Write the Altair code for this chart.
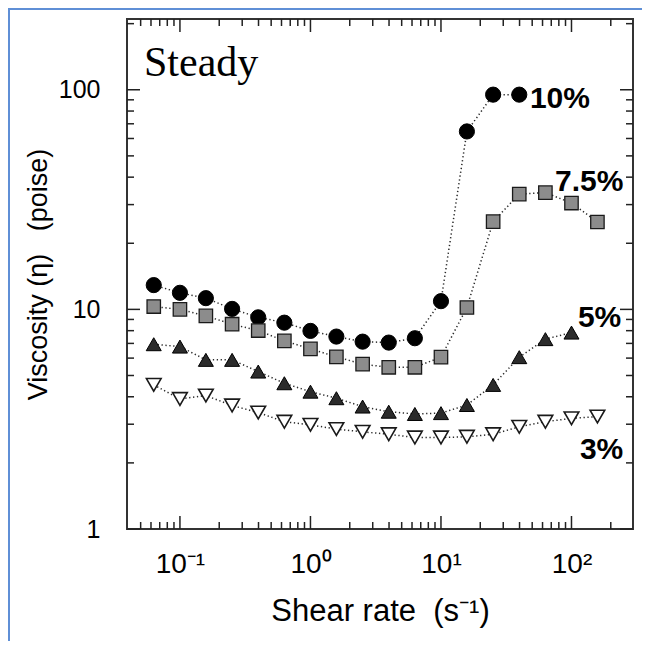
import json
import altair as alt
import pandas as pd

# ---------------- data ----------------
shear = [0.063, 0.1, 0.158, 0.251, 0.398, 0.631, 1.0, 1.58, 2.51, 3.98,
         6.31, 10.0, 15.8, 25.1, 39.8, 63.1, 100.0, 158.0]

visc_10 = [12.9, 11.9, 11.25, 10.05, 9.2, 8.7, 7.98, 7.52, 7.13, 7.06,
           7.39, 10.9, 64.6, 95.0, 95.0]
visc_75 = [10.3, 10.0, 9.34, 8.56, 8.01, 7.19, 6.61, 6.08, 5.63, 5.45,
           5.45, 6.06, 10.2, 25.1, 33.5, 34.0, 30.5, 25.0]
visc_5 = [6.94, 6.77, 5.89, 5.89, 5.21, 4.61, 4.22, 3.94, 3.61, 3.42,
          3.34, 3.37, 3.67, 4.53, 6.06, 7.32, 7.84]
visc_3 = [4.53, 3.91, 4.05, 3.65, 3.39, 3.08, 2.98, 2.85, 2.77, 2.70,
          2.61, 2.61, 2.63, 2.70, 2.92, 3.08, 3.19, 3.25]

series_names = ["10%", "7.5%", "5%", "3%"]
series_values = [visc_10, visc_75, visc_5, visc_3]

# series label anchors (data coordinates)
label_x = [48.0, 74.8, 112.0, 116.0]
label_y = [91.0, 38.1, 9.15, 2.29]

x_domain = [0.0393, 296.0]
y_domain = [1.0, 210.0]

x_major = [0.1, 1, 10, 100]
x_major_labels = ["10\u207b\u00b9", "10\u2070", "10\u00b9", "10\u00b2"]
x_minor = [0.05, 0.06, 0.07, 0.08, 0.09,
           0.2, 0.3, 0.4, 0.5, 0.6, 0.7, 0.8, 0.9,
           2, 3, 4, 5, 6, 7, 8, 9,
           20, 30, 40, 50, 60, 70, 80, 90, 200]
y_major = [1, 10, 100]
y_minor = [2, 3, 4, 5, 6, 7, 8, 9,
           20, 30, 40, 50, 60, 70, 80, 90, 200]

# ---------------- frames ----------------
rows = []
for name, vals in zip(series_names, series_values):
    for x, v in zip(shear, vals):
        rows.append({"series": name, "x": x, "v": v})
df = pd.DataFrame(rows)
labels_df = pd.DataFrame({"series": series_names, "x": label_x, "v": label_y})
one = pd.DataFrame({"a": [0]})

W, H = 506, 510
xs = alt.Scale(type="log", domain=x_domain, nice=False)
ys = alt.Scale(type="log", domain=y_domain, nice=False)

FONT = "Liberation Sans"
TICK = "#222222"
MAJ, MIN = 13, 7

label_expr = (json.dumps(x_major_labels, ensure_ascii=False)
              + "[round(log(datum.value)/LN10) + 1]")

main_axes = alt.Chart(df).mark_point(opacity=0).encode(
    x=alt.X("x:Q", scale=xs, title="Shear rate\u00a0\u00a0(s\u207b\u00b9)",
            axis=alt.Axis(orient="bottom", values=x_major, labelExpr=label_expr,
                          domain=False, grid=False, ticks=False, tickSize=0,
                          labelFont=FONT, labelFontSize=28, labelColor="black",
                          labelPadding=21, titleFont=FONT, titleFontSize=31,
                          titleFontWeight="normal", titleColor="black",
                          titlePadding=18)),
    y=alt.Y("v:Q", scale=ys, title="Viscosity (\u03b7)\u00a0\u00a0\u00a0(poise)",
            axis=alt.Axis(orient="left", values=y_major, format="d",
                          domain=False, grid=False, ticks=False, tickSize=0,
                          labelFont=FONT, labelFontSize=25, labelColor="black",
                          labelPadding=27, titleFont=FONT, titleFontSize=27,
                          titleFontWeight="normal", titleColor="black",
                          titlePadding=6)),
)


def x_ticks(values, length, side):
    y0 = H if side == "bottom" else 0
    y1 = H - length if side == "bottom" else length
    return alt.Chart(pd.DataFrame({"t": values})).mark_rule(
        color=TICK, strokeWidth=1.5
    ).encode(x=alt.X("t:Q", scale=xs, axis=None), y=alt.value(y0), y2=alt.value(y1))


def y_ticks(values, length, side):
    x0 = 0 if side == "left" else W
    x1 = length if side == "left" else W - length
    return alt.Chart(pd.DataFrame({"t": values})).mark_rule(
        color=TICK, strokeWidth=1.5
    ).encode(y=alt.Y("t:Q", scale=ys, axis=None), x=alt.value(x0), x2=alt.value(x1))


tick_layers = [
    x_ticks(x_major, MAJ, "bottom"), x_ticks(x_minor, MIN, "bottom"),
    x_ticks(x_major, MAJ, "top"), x_ticks(x_minor, MIN, "top"),
    y_ticks(y_major, MAJ, "left"), y_ticks(y_minor, MIN, "left"),
    y_ticks(y_major, MAJ, "right"), y_ticks(y_minor, MIN, "right"),
]

enc_x = alt.X("x:Q", scale=xs, axis=None)
enc_y = alt.Y("v:Q", scale=ys, axis=None)

lines = alt.Chart(df).mark_line(
    strokeDash=[1.3, 2.6], strokeWidth=1.5, color="#2a2a2a"
).encode(x=enc_x, y=enc_y, detail="series:N")

styles = {
    "10%": dict(shape="circle", fill="#000000", stroke="#000000", size=230, strokeWidth=1),
    "7.5%": dict(shape="square", fill="#8c8c8c", stroke="#1a1a1a", size=180, strokeWidth=1.3),
    "5%": dict(shape="triangle-up", fill="#2b2b2b", stroke="#000000", size=225, strokeWidth=1),
    "3%": dict(shape="triangle-down", fill="#ffffff", stroke="#1a1a1a", size=215, strokeWidth=1.6),
}

point_layers = []
for name in series_names:
    st = styles[name]
    point_layers.append(
        alt.Chart(df[df.series == name]).mark_point(
            filled=True, opacity=1, **st
        ).encode(x=enc_x, y=enc_y)
    )

series_labels = alt.Chart(labels_df).mark_text(
    align="left", baseline="middle", font=FONT, fontSize=30,
    fontWeight="bold", color="black"
).encode(x=enc_x, y=enc_y, text="series:N")

steady = alt.Chart(one).mark_text(
    text="Steady", align="left", baseline="middle", font="Liberation Serif",
    fontSize=42, color="black"
).encode(x=alt.value(17), y=alt.value(44))

blue_left = alt.Chart(one).mark_rule(color="#5f8fd6", strokeWidth=2).encode(
    x=alt.value(-118), y=alt.value(-10), y2=alt.value(640))
blue_top = alt.Chart(one).mark_rule(color="#5f8fd6", strokeWidth=2).encode(
    x=alt.value(-119), x2=alt.value(520), y=alt.value(-10))

chart = alt.layer(
    main_axes, *tick_layers, lines, *point_layers, series_labels, steady,
    blue_left, blue_top,
).resolve_axis(x="independent", y="independent").resolve_scale(
    x="shared", y="shared"
).properties(
    width=W, height=H,
    autosize=alt.AutoSizeParams(type="none"),
    padding={"left": 119, "top": 11, "right": 9, "bottom": 112},
).configure_view(stroke="#333333", strokeWidth=2)

chart.save("out.html", embed_options={"renderer": "svg", "actions": False})
